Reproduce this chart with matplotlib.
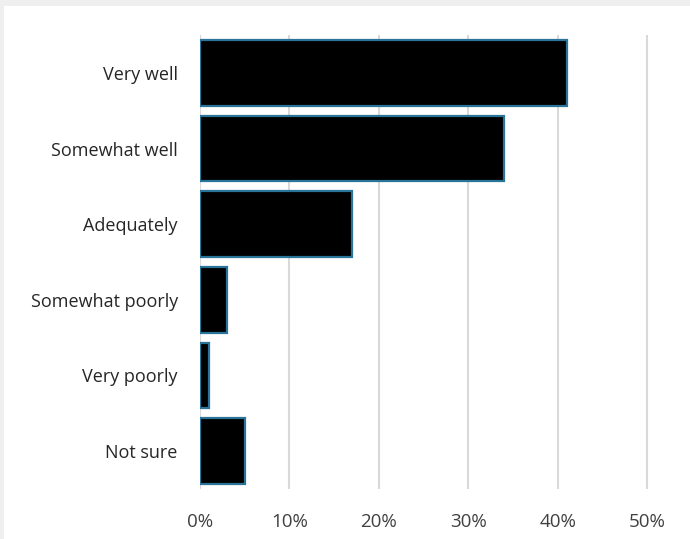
import matplotlib
matplotlib.use('Agg')
import matplotlib.pyplot as plt
from matplotlib.patches import Rectangle
import numpy as np

categories = ["Very well", "Somewhat well", "Adequately", "Somewhat poorly", "Very poorly", "Not sure"]
values = [41, 34, 17, 3, 1, 5]
x_ticks = [0, 10, 20, 30, 40, 50]
x_labels = ["0%", "10%", "20%", "30%", "40%", "50%"]

plt.rcParams['font.family'] = ['Open Sans', 'DejaVu Sans']

fig = plt.figure(figsize=(6.9, 5.39), dpi=100)
fig.patch.set_facecolor('#efefef')
# white panel, gray strip left and top
fig.patches.append(Rectangle((4 / 690, 0), 1, (539 - 6) / 539, transform=fig.transFigure,
                             facecolor='white', edgecolor='none', zorder=-10))

ax = fig.add_axes([200 / 690, (539 - 489) / 539, (647 - 200) / 690 + 0.02, (489 - 35) / 539])
ax.set_facecolor('none')

y = np.arange(len(categories))
ax.barh(y, values, height=0.87, color='black', edgecolor='#2a7399', linewidth=1.6, zorder=3)

ax.set_ylim(len(categories) - 0.5, -0.5)
ax.set_xlim(0, 50 * (447 + 0.02 * 690) / 447)
ax.set_xticks(x_ticks)
ax.set_xticklabels(x_labels, fontsize=13.5, color='#404040')
ax.set_yticks(y)
ax.set_yticklabels(categories, fontsize=13, color='#262626')

ax.grid(axis='x', color='#d9d9d9', linewidth=1.5, zorder=0)
for s in ax.spines.values():
    s.set_visible(False)
ax.tick_params(axis='both', length=0)
ax.tick_params(axis='x', pad=17)
ax.tick_params(axis='y', pad=16)

plt.savefig('out.png', dpi=100, facecolor=fig.get_facecolor())
